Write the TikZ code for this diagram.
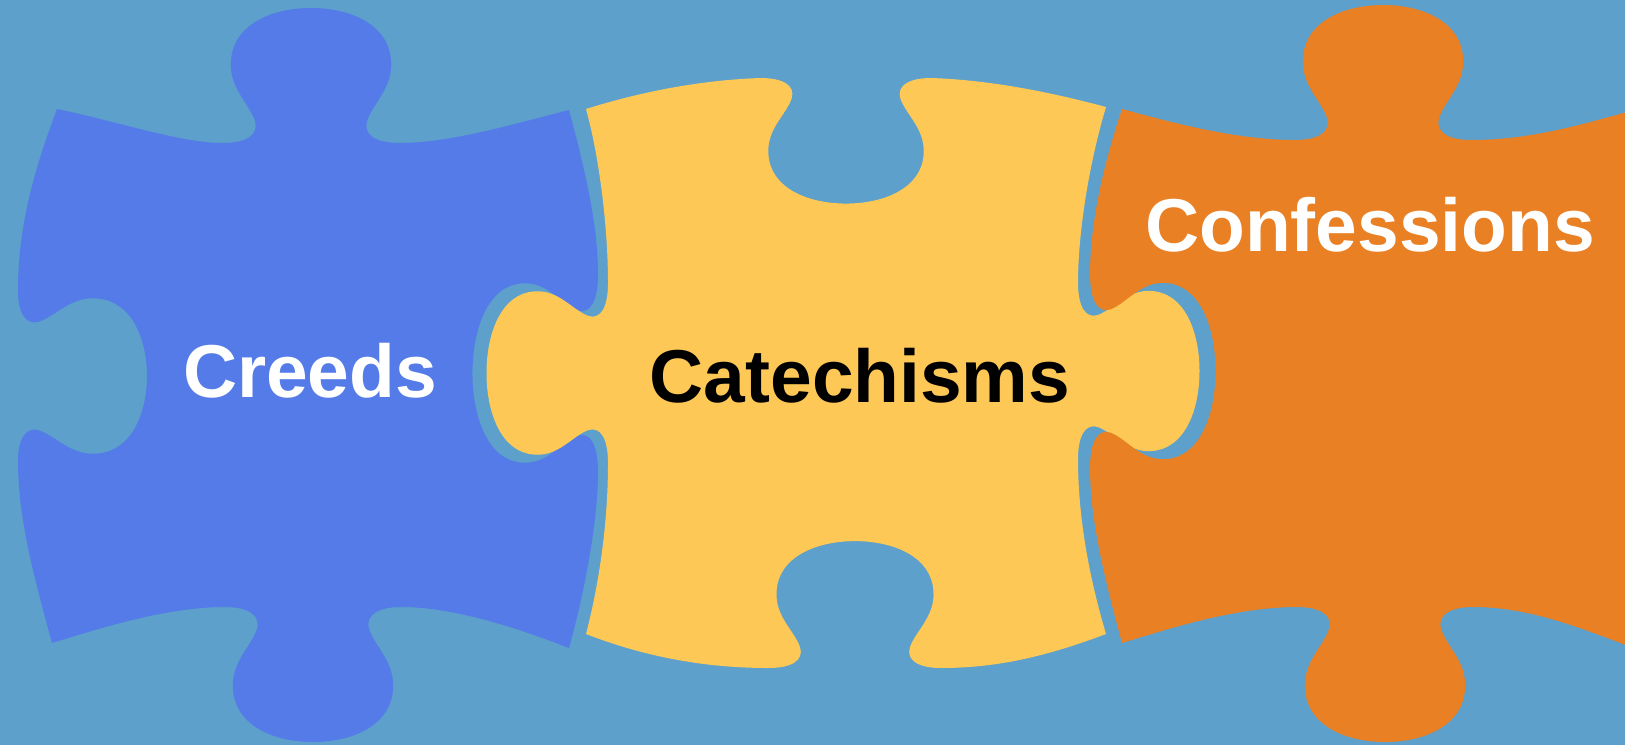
\documentclass[tikz,border=0pt]{standalone}
\usepackage{fontspec}
\setmainfont{Liberation Sans}
\usepackage{tikz}
\usepackage{xcolor}

\definecolor{sea}{HTML}{5CA0CB}
\definecolor{creedblue}{HTML}{547BE8}
\definecolor{catyellow}{HTML}{FDC856}
\definecolor{confvorange}{HTML}{EA8024}

% local frame of a tab: u runs along the edge, v points out of the piece
\tikzset{
    knob N/.style 2 args={x={({#1*0.01cm},0)}, y={(0,{#2*0.01cm})}},
    knob S/.style 2 args={x={({-(#1)*0.01cm},0)}, y={(0,{-(#2)*0.01cm})}},
    knob E/.style 2 args={x={(0,{-(#1)*0.01cm})}, y={({#2*0.01cm},0)}},
    knob W/.style 2 args={x={(0,{#1*0.01cm})}, y={({-(#2)*0.01cm},0)}},
    piecetext/.style={font=\fontsize{21.3}{26}\selectfont\bfseries, anchor=base, inner sep=0pt}
}

% one puzzle tab (negative v scale gives a blank)
\newcommand{\knob}[1]{{[#1] -- (-88,0)
    .. controls (-65,0) and (-52,8) .. (-56,22)
    .. controls (-62,40) and (-82,55) .. (-80,82)
    .. controls (-78,118) and (-40,135) .. (0,135)
    .. controls (40,135) and (78,118) .. (80,82)
    .. controls (82,55) and (62,40) .. (56,22)
    .. controls (52,8) and (65,0) .. (88,0)}}

\begin{document}
\begin{tikzpicture}[x=0.01cm, y=-0.01cm]

    % Canvas: sea blue background, 1625 x 745 units
    \useasboundingbox (0,0) rectangle (1625,745);
    \clip (0,0) rectangle (1625,745);
    \fill[sea] (0,0) rectangle (1625,745);

    % Left piece: tabs up and down, blanks left and right
    \fill[creedblue] (57,109) .. controls (120,122) and (180,143) .. (223,143)
        \knob{shift={(311,143)}, knob N={1}{1}}
        .. controls (450,143) and (510,125) .. (569,110)
        .. controls (585,170) and (598,225) .. (598,274)
        \knob{shift={(598,373)}, knob E={1.12}{-0.93}}
        .. controls (598,520) and (585,590) .. (569,648)
        .. controls (510,625) and (450,607) .. (401,607)
        \knob{shift={(313,607)}, knob S={1}{1}}
        .. controls (170,607) and (110,625) .. (52,643)
        .. controls (35,580) and (18,520) .. (18,461)
        \knob{shift={(18,376)}, knob W={0.97}{-0.955}}
        .. controls (18,220) and (38,160) .. (57,109) -- cycle;

    % Middle piece: tabs left and right, blanks up and down
    \fill[catyellow] (586,109) .. controls (640,92) and (700,80) .. (761,78)
        \knob{shift={(846,78)}, knob N={0.97}{-0.93}}
        .. controls (990,80) and (1050,92) .. (1106,107)
        .. controls (1090,160) and (1078,230) .. (1078,283)
        \knob{shift={(1078,371)}, knob E={1}{0.9}}
        .. controls (1078,520) and (1090,580) .. (1106,634)
        .. controls (1050,655) and (1000,668) .. (941,668)
        \knob{shift={(855,668)}, knob S={0.98}{-0.94}}
        .. controls (700,668) and (640,655) .. (586,634)
        .. controls (600,580) and (608,520) .. (608,463)
        \knob{shift={(608,373)}, knob W={1.02}{0.9}}
        .. controls (608,230) and (600,160) .. (586,109) -- cycle;

    % Right piece: runs past the right border
    \fill[confvorange] (1122,109) .. controls (1180,125) and (1240,140) .. (1295,140)
        \knob{shift={(1383,140)}, knob N={1}{1}}
        .. controls (1530,140) and (1580,125) .. (1634,110)
        .. controls (1655,200) and (1665,300) .. (1665,378)
        .. controls (1665,460) and (1655,560) .. (1634,648)
        .. controls (1580,628) and (1530,607) .. (1473,607)
        \knob{shift={(1385,607)}, knob S={1}{1}}
        .. controls (1240,607) and (1180,625) .. (1122,643)
        .. controls (1105,580) and (1090,520) .. (1090,468)
        \knob{shift={(1090,371)}, knob W={1.1}{-0.93}}
        .. controls (1090,220) and (1105,160) .. (1122,109) -- cycle;

    % Labels
    \node[piecetext, white] (creeds) at (310,397) {Creeds};
    \node[piecetext, black] (catechisms) at (860,402) {Catechisms};
    \node[piecetext, white] (confessions) at (1370,251) {Confessions};

\end{tikzpicture}
\end{document}
